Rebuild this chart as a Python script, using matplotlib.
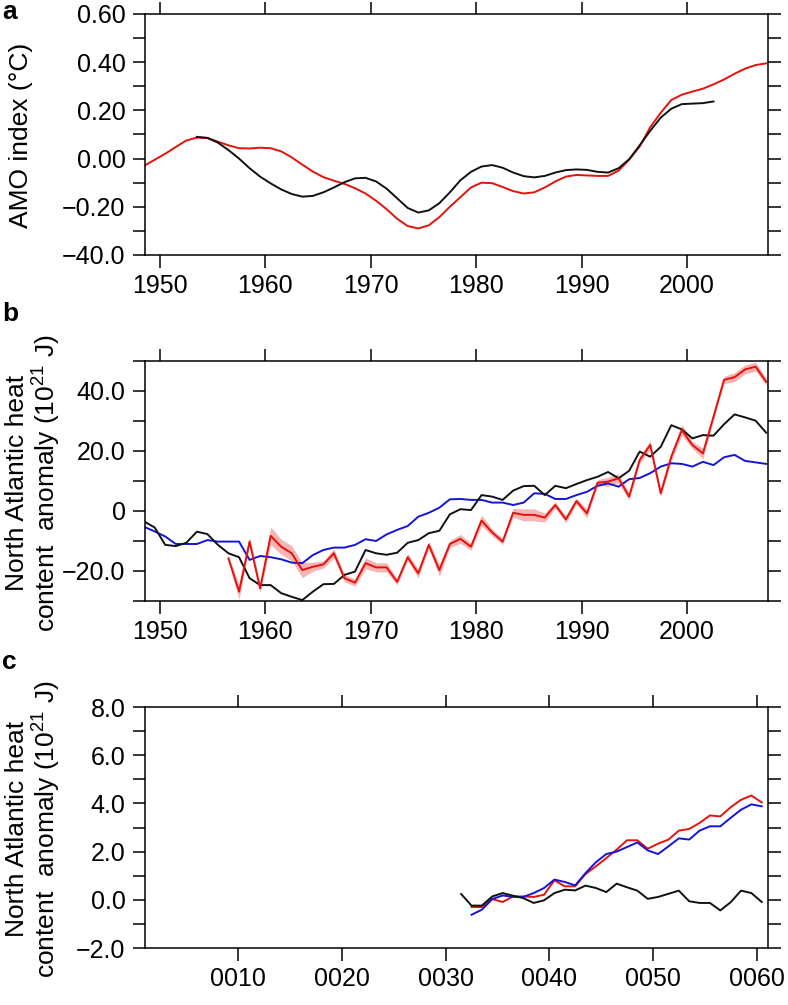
import numpy as np
import matplotlib
matplotlib.use("Agg")
import matplotlib.pyplot as plt

plt.rcParams["font.family"] = ["Liberation Sans", "DejaVu Sans"]
plt.rcParams["mathtext.default"] = "regular"

RED = "#e3120b"
BLUE = "#1414d8"
BLACK = "#111111"
PINK = "#f6b4b4"

# panel a: smoothed AMO index, mid-year values
amo_red_years = np.arange(1948, 2008) + 0.5
amo_red = [-0.03, -0.005, 0.02, 0.048, 0.075, 0.087, 0.085, 0.07, 0.055, 0.043,
           0.042, 0.045, 0.043, 0.03, 0.005, -0.025, -0.054, -0.077, -0.092, -0.105,
           -0.123, -0.145, -0.175, -0.21, -0.25, -0.28, -0.29, -0.277, -0.243, -0.2,
           -0.16, -0.12, -0.1, -0.102, -0.118, -0.135, -0.145, -0.14, -0.12, -0.095,
           -0.075, -0.068, -0.07, -0.072, -0.072, -0.05, -0.005, 0.05, 0.13, 0.19,
           0.243, 0.265, 0.278, 0.29, 0.308, 0.328, 0.352, 0.373, 0.388, 0.395]
amo_black_years = np.arange(1953, 2003) + 0.5
amo_black = [0.09, 0.086, 0.066, 0.035, 0.0, -0.04, -0.075, -0.103, -0.128, -0.147,
             -0.158, -0.155, -0.14, -0.12, -0.098, -0.082, -0.08, -0.095, -0.125, -0.165,
             -0.205, -0.224, -0.215, -0.185, -0.14, -0.09, -0.055, -0.033, -0.027, -0.038,
             -0.058, -0.073, -0.078, -0.072, -0.058, -0.048, -0.045, -0.047, -0.055, -0.058,
             -0.04, -0.003, 0.055, 0.115, 0.17, 0.207, 0.226, 0.228, 0.23, 0.237]

# panel b: North Atlantic heat content anomaly (1e21 J)
ohc_years = np.arange(1948, 2008) + 0.5
ohc_black = [-3.5, -5.5, -11.3, -11.7, -10.6, -6.9, -7.7, -11.3, -14.1, -15.4,
             -22.4, -24.7, -24.7, -27.4, -28.6, -29.7, -26.9, -24.4, -24.3, -21.3,
             -20.2, -13.0, -14.1, -14.6, -13.9, -10.6, -9.7, -7.4, -6.6, -1.1,
             0.6, 0.3, 5.3, 4.8, 3.7, 6.8, 8.3, 8.4, 5.3, 8.4,
             7.6, 9.0, 10.3, 11.4, 13.0, 10.9, 13.4, 19.8, 18.1, 21.4,
             28.6, 27.2, 24.2, 25.3, 25.1, 28.9, 32.2, 31.2, 30.1, 26.1]
ohc_blue = [-5.3, -6.8, -8.5, -11.0, -11.0, -11.0, -9.7, -10.2, -10.2, -10.2,
            -16.3, -15.0, -15.4, -16.1, -17.2, -17.4, -14.7, -13.0, -12.2, -12.2,
            -11.3, -9.4, -10.0, -7.8, -6.3, -5.0, -1.9, -0.6, 1.1, 3.9,
            4.0, 3.7, 3.7, 2.8, 2.8, 2.0, 2.8, 5.9, 5.7, 4.0,
            4.0, 5.3, 6.4, 8.4, 9.2, 8.1, 10.6, 11.0, 12.6, 14.8,
            15.9, 15.7, 14.8, 16.4, 15.3, 17.9, 18.7, 16.7, 16.2, 15.7]
ohc_red_years = np.arange(1956, 2008) + 0.5
ohc_red = [-15.8, -26.9, -10.2, -25.8, -8.3, -11.9, -14.1, -19.7, -18.6, -17.8,
           -14.1, -22.4, -23.9, -17.4, -18.8, -18.8, -23.6, -15.4, -20.8, -11.3,
           -19.7, -11.0, -9.3, -11.9, -3.2, -7.1, -10.2, -0.6, -1.3, -1.3,
           -2.2, 2.0, -2.8, 3.3, -0.8, 9.4, 9.8, 10.9, 4.8, 17.0,
           22.0, 5.9, 18.1, 27.0, 22.0, 19.2, 31.4, 43.7, 44.6, 47.2,
           48.1, 43.1]
ohc_red_err = [0.8, 2.5, 1.5, 1.5, 3.0, 2.5, 2.5, 2.5, 1.5, 1.2,
               1.5, 1.2, 1.2, 1.8, 1.5, 1.5, 1.0, 1.2, 1.5, 1.2,
               2.0, 1.2, 1.5, 1.2, 1.8, 1.2, 1.0, 1.5, 2.0, 2.0,
               1.5, 1.0, 1.2, 1.0, 1.5, 1.0, 1.5, 1.5, 1.2, 1.2,
               1.5, 1.2, 1.5, 1.8, 1.2, 1.8, 1.2, 1.2, 1.5, 1.5,
               1.5, 1.2]

# panel c: model years
mod_black_years = np.arange(31, 61) + 0.5
mod_black = [0.24, -0.24, -0.24, 0.14, 0.28, 0.17, 0.07, -0.13, -0.02, 0.28,
             0.42, 0.39, 0.59, 0.49, 0.32, 0.67, 0.52, 0.38, 0.04, 0.12,
             0.25, 0.38, -0.06, -0.13, -0.13, -0.44, -0.10, 0.38, 0.28, -0.09]
mod_years = np.arange(32, 61) + 0.5
mod_red = [-0.30, -0.30, 0.03, -0.09, 0.14, 0.14, 0.12, 0.21, 0.81,
           0.56, 0.56, 1.07, 1.39, 1.73, 2.08, 2.47, 2.47, 2.12, 2.33,
           2.50, 2.87, 2.94, 3.19, 3.50, 3.46, 3.84, 4.15, 4.33, 4.04]
mod_blue = [-0.62, -0.41, 0.03, 0.18, 0.12, 0.12, 0.28, 0.49, 0.84,
            0.74, 0.60, 1.11, 1.56, 1.90, 2.00, 2.19, 2.38, 2.05, 1.90,
            2.22, 2.55, 2.50, 2.87, 3.05, 3.05, 3.40, 3.74, 3.96, 3.88]

a_yticks = np.arange(-0.4, 0.61, 0.1)
a_ylabels = ["−40.0", "", "−0.20", "", "0.00", "", "0.20", "", "0.40", "", "0.60"]
b_yticks = np.arange(-30, 51, 10)
b_ylabels = ["", "−20.0", "", "0", "", "20.0", "", "40.0", ""]
c_yticks = np.arange(-2, 8.1, 1)
c_ylabels = ["−2.0", "", "0.0", "", "2.0", "", "4.0", "", "6.0", "", "8.0"]
obs_xticks = [1950, 1960, 1970, 1980, 1990, 2000]
mod_xticks = [10, 20, 30, 40, 50, 60]

TICK_FS = 18
LABEL_FS = 19
LW = 1.4


def style(ax, xticks, xlabels, yticks, ylabels):
    ax.set_xticks(xticks)
    ax.set_xticklabels(xlabels)
    ax.set_yticks(yticks)
    ax.set_yticklabels(ylabels)
    ax.tick_params(direction="out", length=9, width=1.1, labelsize=TICK_FS,
                   top=True, right=True, labeltop=False, labelright=False)
    ax.tick_params(axis="x", pad=5)
    ax.tick_params(axis="y", pad=5)
    for s in ax.spines.values():
        s.set_linewidth(1.1)


fig = plt.figure(figsize=(7.88, 10.05), dpi=100)

axa = fig.add_axes([0.184, 0.7463, 0.7906, 0.2398])
axa.plot(amo_red_years, amo_red, color=RED, lw=LW)
axa.plot(amo_black_years, amo_black, color=BLACK, lw=LW)
axa.set_xlim(1948.58, 2007.67)
axa.set_ylim(-0.4, 0.6)
style(axa, obs_xticks, [str(y) for y in obs_xticks], a_yticks, a_ylabels)

axb = fig.add_axes([0.184, 0.402, 0.7906, 0.2388])
lo = np.array(ohc_red) - np.array(ohc_red_err)
hi = np.array(ohc_red) + np.array(ohc_red_err)
axb.fill_between(ohc_red_years, lo, hi, color=PINK, lw=0)
axb.plot(ohc_years, ohc_blue, color=BLUE, lw=LW)
axb.plot(ohc_years, ohc_black, color=BLACK, lw=LW)
axb.plot(ohc_red_years, ohc_red, color=RED, lw=LW)
axb.set_xlim(1948.58, 2007.67)
axb.set_ylim(-30, 50)
style(axb, obs_xticks, [str(y) for y in obs_xticks], b_yticks, b_ylabels)

axc = fig.add_axes([0.184, 0.0567, 0.7906, 0.2398])
axc.plot(mod_years, mod_red, color=RED, lw=LW)
axc.plot(mod_years, mod_blue, color=BLUE, lw=LW)
axc.plot(mod_black_years, mod_black, color=BLACK, lw=LW)
axc.set_xlim(1.0, 61.1)
axc.set_ylim(-2, 8)
style(axc, mod_xticks, ["%04d" % y for y in mod_xticks], c_yticks, c_ylabels)

# y-axis titles
fig.text(21 / 788, 1 - 135 / 1005, "AMO index (°C)", rotation=90,
         ha="center", va="center", fontsize=LABEL_FS)
ohc_label = "North Atlantic heat\ncontent  anomaly (10$^{21}$ J)"
fig.text(34 / 788, 1 - 483 / 1005, ohc_label, rotation=90, ha="center",
         va="center", fontsize=LABEL_FS, multialignment="center", linespacing=1.1)
fig.text(34 / 788, 1 - 829 / 1005, ohc_label, rotation=90, ha="center",
         va="center", fontsize=LABEL_FS, multialignment="center", linespacing=1.1)

# panel letters
for letter, ypx in [("a", 12), ("b", 314), ("c", 662)]:
    fig.text(2 / 788, 1 - ypx / 1005, letter, fontsize=19, fontweight="bold",
             ha="left", va="center")

fig.savefig("out.png", dpi=100)
plt.close(fig)
